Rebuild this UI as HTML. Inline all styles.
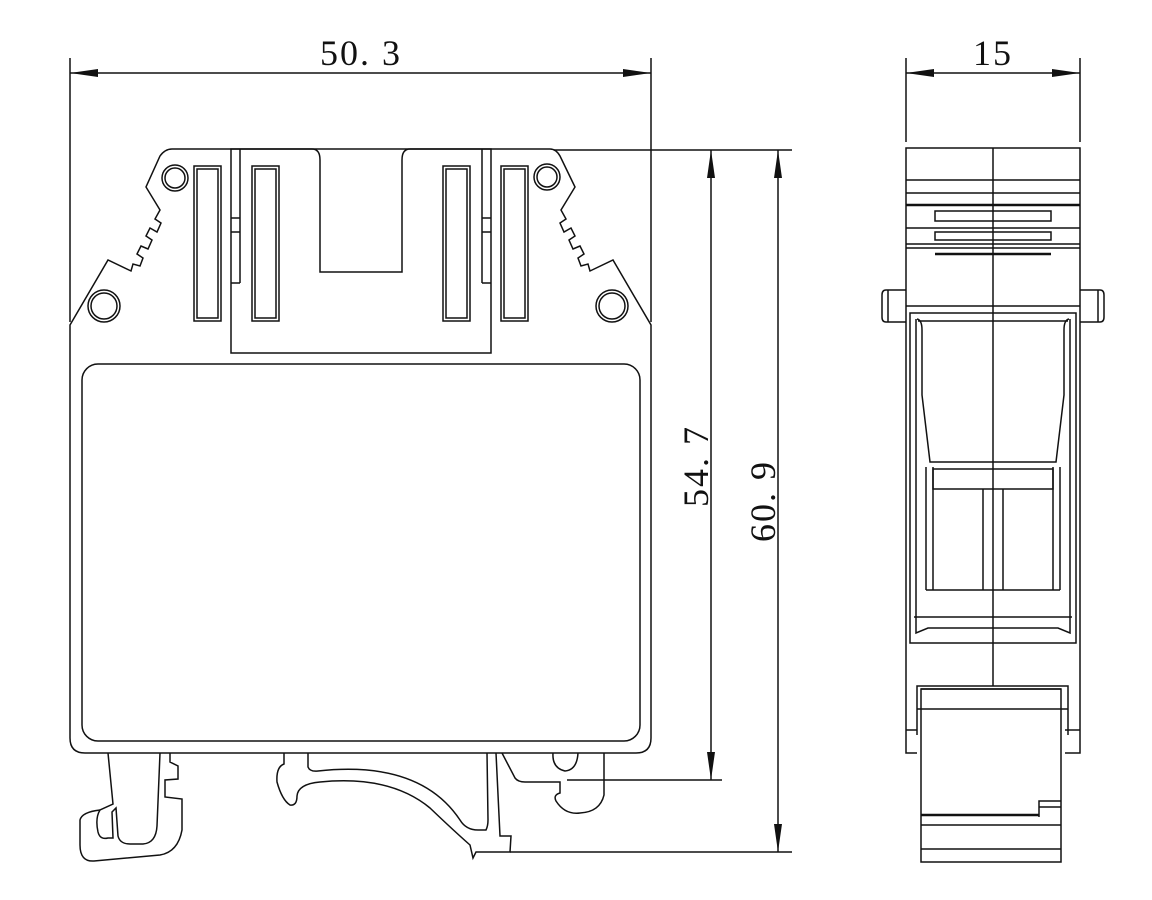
<!DOCTYPE html>
<html><head><meta charset="utf-8"><style>
html,body{margin:0;padding:0;background:#fff;}
svg{display:block}
text{font-family:"Liberation Serif","Noto Serif CJK SC",serif;font-size:36px;fill:#111;letter-spacing:2px}
</style></head><body>
<svg width="1152" height="900" viewBox="0 0 1152 900" xmlns="http://www.w3.org/2000/svg">
<g stroke="#111" stroke-width="1.5" fill="none">
<!-- dimension 50.3 -->
<line x1="70" y1="58" x2="70" y2="322"/>
<line x1="651" y1="58" x2="651" y2="322"/>
<line x1="70" y1="73" x2="651" y2="73"/>
<path d="M70,73 l28,-4 v8z M651,73 l-28,-4 v8z" fill="#111" stroke="none"/>
<!-- dimension 15 -->
<line x1="906" y1="58" x2="906" y2="142"/>
<line x1="1080" y1="58" x2="1080" y2="142"/>
<line x1="906" y1="73" x2="1080" y2="73"/>
<path d="M906,73 l28,-4 v8z M1080,73 l-28,-4 v8z" fill="#111" stroke="none"/>
<!-- vertical dims -->
<line x1="554" y1="150" x2="792" y2="150"/>
<line x1="567" y1="780" x2="722" y2="780"/>
<line x1="510" y1="852" x2="792" y2="852"/>
<line x1="711" y1="150" x2="711" y2="780"/>
<line x1="778" y1="150" x2="778" y2="852"/>
<path d="M711,150 l-4,28 h8z M711,780 l-4,-28 h8z M778,150 l-4,28 h8z M778,852 l-4,-28 h8z" fill="#111" stroke="none"/>

<!-- main body outline -->
<path d="M70,325 L108,260 L131,271 L133,264 L140,266 L143,258 L137,254 L141,246 L148,249 L152,240 L146,236 L150,228 L157,232 L161,223 L155,219 L160,210 L146,187 L160,156 Q165,149 172,149 L312,149 Q320,149 320,160 L320,272 L402,272 L402,160 Q402,149 410,149 L550,149 Q556,149 560,156 L575,187 L561,210 L566,219 L560,223 L564,232 L571,228 L575,236 L569,240 L573,249 L580,246 L584,254 L578,258 L581,266 L588,264 L590,271 L613,260 L651,325 L651,738 Q651,753 636,753 L85,753 Q70,753 70,738 Z"/>
<rect x="231" y="149" width="260" height="204"/>
<line x1="240" y1="149" x2="240" y2="283"/><line x1="231" y1="283" x2="240" y2="283"/>
<line x1="231" y1="218" x2="240" y2="218"/><line x1="231" y1="232" x2="240" y2="232"/>
<line x1="482" y1="149" x2="482" y2="283"/><line x1="482" y1="283" x2="491" y2="283"/>
<line x1="482" y1="218" x2="491" y2="218"/><line x1="482" y1="232" x2="491" y2="232"/>
<g>
<rect x="194" y="166" width="27" height="155"/><rect x="197" y="169" width="21" height="149"/>
<rect x="252" y="166" width="27" height="155"/><rect x="255" y="169" width="21" height="149"/>
<rect x="443" y="166" width="27" height="155"/><rect x="446" y="169" width="21" height="149"/>
<rect x="501" y="166" width="27" height="155"/><rect x="504" y="169" width="21" height="149"/>
</g>
<circle cx="175" cy="178" r="13"/><circle cx="175" cy="178" r="10"/>
<circle cx="547" cy="177" r="13"/><circle cx="547" cy="177" r="10"/>
<circle cx="104" cy="306" r="16"/><circle cx="104" cy="306" r="13"/>
<circle cx="612" cy="306" r="16"/><circle cx="612" cy="306" r="13"/>
<rect x="82" y="364" width="558" height="377" rx="16"/>

<!-- feet -->
<path d="M108,753 L113,804 L100,810 Q95,818 98,832 Q100,840 108,838 L113,838 L112,812 L116,808 L118,836 Q120,844 130,844 L143,844 Q156,843 157,826 L160,753"/>
<path d="M170,753 L170,762 L178,766 L178,779 L165,780 L165,797 L182,799 L182,830 Q178,852 160,855 L94,861 Q80,862 80,845 L80,820 Q82,812 100,810"/>
<path d="M284,753 L284,764 Q276,767 277,782 Q282,800 290,805 Q297,806 297,796 Q298,784 320,782 Q390,775 430,808 Q453,830 470,845 L473,858 Q476,852 476,852 L510,852 L511,836 L500,836 L496,753"/>
<path d="M308,753 L308,767 Q310,772 318,771 Q420,760 460,820 Q466,830 478,830 L486,830 Q488,826 488,820 L487,753"/>
<path d="M502,753 L515,778 Q518,782 525,782 L560,782 L560,793 Q553,795 556,801 Q565,815 580,813 Q600,812 604,795 L604,753"/>
<path d="M553,753 Q552,768 565,771 Q577,770 578,753"/>

<!-- side view -->
<line x1="993" y1="148" x2="993" y2="686"/>
<path d="M917,753 H906 V148 H1080 V753 H1065"/>
<line x1="906" y1="730" x2="917" y2="730"/>
<line x1="1065" y1="730" x2="1080" y2="730"/>
<line x1="906" y1="180" x2="1080" y2="180"/>
<line x1="906" y1="193" x2="1080" y2="193"/>
<line x1="906" y1="205" x2="1080" y2="205" stroke-width="2.5"/>
<rect x="935" y="211" width="116" height="10"/>
<line x1="906" y1="228" x2="1080" y2="228"/>
<rect x="935" y="232" width="116" height="8"/>
<line x1="906" y1="244" x2="1080" y2="244"/>
<line x1="906" y1="248" x2="1080" y2="248"/>
<line x1="935" y1="254" x2="1051" y2="254" stroke-width="2.5"/>
<line x1="906" y1="306" x2="1080" y2="306"/>
<path d="M906,290 H886 Q882,290 882,295 V317 Q882,322 886,322 H906"/>
<line x1="888" y1="290" x2="888" y2="322"/>
<path d="M1080,290 H1100 Q1104,290 1104,295 V317 Q1104,322 1100,322 H1080"/>
<line x1="1098" y1="290" x2="1098" y2="322"/>
<rect x="910" y="313" width="166" height="330"/>
<path d="M916,319 V633 L928,628 H1058 L1070,633 V319"/>
<path d="M917,319 Q922,320 922,330 V395 L930,462 H1056 L1064,395 V330 Q1064,320 1069,319"/>
<line x1="918" y1="321" x2="1068" y2="321"/>
<rect x="933" y="469" width="120" height="20"/>
<line x1="926" y1="467" x2="926" y2="590"/><line x1="933" y1="467" x2="933" y2="590"/>
<line x1="1053" y1="467" x2="1053" y2="590"/><line x1="1060" y1="467" x2="1060" y2="590"/>
<line x1="983" y1="489" x2="983" y2="590"/><line x1="1003" y1="489" x2="1003" y2="590"/>
<line x1="926" y1="590" x2="1060" y2="590"/>
<line x1="914" y1="617" x2="1072" y2="617"/>
<path d="M917,735 V686 H1068 V735"/>
<line x1="921" y1="689" x2="1061" y2="689"/>
<rect x="921" y="689" width="140" height="173"/>
<line x1="917" y1="709" x2="1068" y2="709"/>
<line x1="921" y1="815" x2="1039" y2="815" stroke-width="2.5"/>
<line x1="921" y1="825" x2="1061" y2="825"/>
<line x1="921" y1="849" x2="1061" y2="849"/>
<path d="M1039,817 V801 H1061 M1039,807 H1061"/>
</g>
<text x="361" y="65" text-anchor="middle">50. 3</text>
<text x="993" y="65" text-anchor="middle">15</text>
<text transform="translate(708,466) rotate(-90)" text-anchor="middle">54. 7</text>
<text transform="translate(775,501) rotate(-90)" text-anchor="middle">60. 9</text>
</svg>
</body></html>
